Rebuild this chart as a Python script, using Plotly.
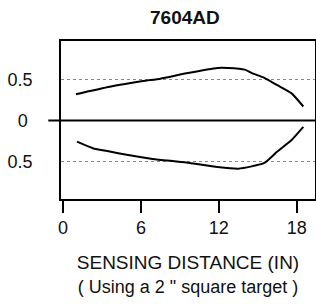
import plotly.graph_objects as go

# Data
upper_x = [1.0, 3.6, 6.15, 7.5, 9.5, 11.9, 12.7, 14.0, 14.5, 15.5, 16.5, 17.6, 18.5]
upper_y = [0.32, 0.41, 0.48, 0.51, 0.575, 0.64, 0.64, 0.62, 0.58, 0.52, 0.43, 0.33, 0.17]
lower_x = [1.08, 2.3, 3.6, 4.9, 6.9, 9.5, 11.9, 13.5, 15.5, 16.5, 17.6, 18.5]
lower_y = [-0.26, -0.34, -0.38, -0.42, -0.47, -0.515, -0.57, -0.59, -0.52, -0.38, -0.24, -0.08]

x_ticks = [0, 6, 12, 18]
x_tick_text = ["0", "6", "12", "18"]
y_ticks = [-0.5, 0, 0.5]
y_tick_text = ["0.5", "0\u00a0", "0.5"]

title_text = "7604AD"
x_title = "SENSING DISTANCE (IN)"
sub_title = "( Using a 2 \" square target )"

font = "Liberation Sans, Arial, sans-serif"
x_range = [-0.15, 19.4]

fig = go.Figure()
fig.add_trace(go.Scatter(x=upper_x, y=upper_y, mode="lines",
                         line=dict(color="black", width=2, shape="spline", smoothing=0.5),
                         hoverinfo="skip"))
fig.add_trace(go.Scatter(x=lower_x, y=lower_y, mode="lines",
                         line=dict(color="black", width=2, shape="spline", smoothing=0.5),
                         hoverinfo="skip"))

# zero line extending left beyond the axis
fig.add_shape(type="line", xref="paper", yref="y", x0=-0.05, x1=1, y0=0, y1=0,
              line=dict(color="black", width=2))
# detached tick marks below the x axis, positioned from the tick values
for tv in x_ticks:
    px = (tv - x_range[0]) / (x_range[1] - x_range[0])
    fig.add_shape(type="line", xref="paper", yref="paper", x0=px, x1=px,
                  y0=-0.025, y1=-0.082, line=dict(color="black", width=1.5))

fig.update_layout(
    width=316, height=304,
    margin=dict(l=61, r=1, t=41, b=105),
    paper_bgcolor="white", plot_bgcolor="white",
    showlegend=False,
    font=dict(family=font, color="black"),
    title=dict(text="<b>" + title_text + "</b>", x=0.585, xanchor="center",
               y=1 - 17 / 304, yanchor="middle",
               font=dict(size=19, family=font, color="#111")),
    xaxis=dict(range=x_range, tickvals=x_ticks, ticktext=x_tick_text,
               showgrid=False, zeroline=False, automargin=False,
               showline=True, linecolor="black", linewidth=1.5, mirror=True,
               ticks="outside", ticklen=12, tickwidth=1.5, tickcolor="black",
               tickfont=dict(size=18, family=font, color="#111"),
               title=dict(text=x_title + "<br><span style='font-size:18px'>" + sub_title + "</span>",
                          font=dict(size=19, family=font, color="#111"), standoff=18)),
    yaxis=dict(range=[-0.96, 0.97], tickvals=y_ticks, ticktext=y_tick_text,
               showgrid=True, griddash="dot", gridcolor="#888", gridwidth=1,
               zeroline=False, automargin=False,
               showline=True, linecolor="black", linewidth=1.5, mirror=True,
               ticks="", ticklabelstandoff=23,
               tickfont=dict(size=18, family=font, color="#111")),
)

fig.write_html("out.html", post_script="document.body.style.margin='0';",
               config={"displayModeBar": False})
